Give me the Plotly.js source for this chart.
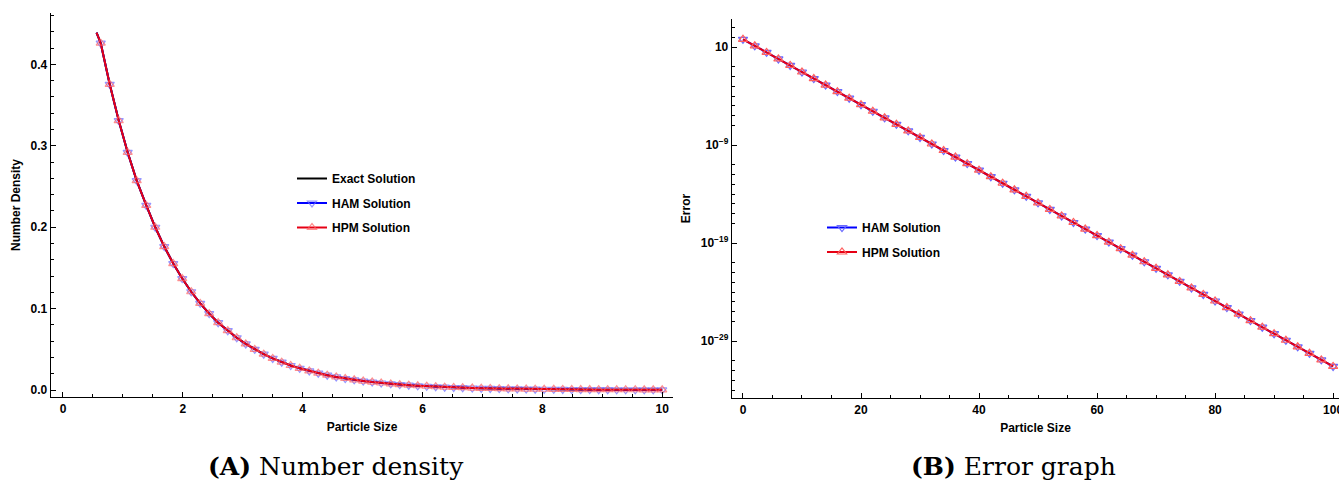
<!DOCTYPE html>
<html>
<head>
<meta charset="utf-8">
<script src="https://cdn.plot.ly/plotly-3.0.1.min.js"></script>
<style>html,body{margin:0;padding:0;background:#fff;}#chart{width:1339px;height:483px;}</style>
</head>
<body>
<div id="chart"></div>
<script>
// ---- Panel A: number density ----
const particleSize = [0.56, 0.63, 0.78, 0.93, 1.08, 1.23, 1.39, 1.54, 1.69, 1.84, 1.99,
  2.14, 2.29, 2.44, 2.59, 2.75, 2.90, 3.05, 3.20, 3.35, 3.50,
  3.65, 3.80, 3.95, 4.11, 4.26, 4.41, 4.56, 4.71, 4.86, 5.01,
  5.16, 5.31, 5.47, 5.62, 5.77, 5.92, 6.07, 6.22, 6.37, 6.52,
  6.67, 6.83, 6.98, 7.13, 7.28, 7.43, 7.58, 7.73, 7.88, 8.03,
  8.19, 8.34, 8.49, 8.64, 8.79, 8.94, 9.09, 9.24, 9.39, 9.55,
  9.70, 9.85, 10.00];
const exactDensity = [0.439, 0.426, 0.3755, 0.3310, 0.2918, 0.2572, 0.2267, 0.1999, 0.1762, 0.1553, 0.1369,
  0.1207, 0.1064, 0.0938, 0.0827, 0.0729, 0.0642, 0.0566, 0.0499, 0.0440, 0.0388,
  0.0342, 0.0301, 0.0266, 0.0234, 0.0207, 0.0182, 0.0160, 0.0141, 0.0125, 0.0110,
  0.0097, 0.0086, 0.0075, 0.0066, 0.0059, 0.0052, 0.0046, 0.0040, 0.0035, 0.0031,
  0.0028, 0.0024, 0.0021, 0.0019, 0.0017, 0.0015, 0.0013, 0.0011, 0.0010, 0.0009,
  0.0008, 0.0007, 0.0006, 0.0005, 0.0005, 0.0004, 0.0004, 0.0003, 0.0003, 0.0003,
  0.0002, 0.0002, 0.0002];
const hamDensity = [0.439, 0.426, 0.3755, 0.3310, 0.2918, 0.2572, 0.2267, 0.1999, 0.1762, 0.1553, 0.1369,
  0.1207, 0.1064, 0.0938, 0.0827, 0.0729, 0.0642, 0.0566, 0.0499, 0.0440, 0.0388,
  0.0342, 0.0301, 0.0266, 0.0234, 0.0207, 0.0182, 0.0160, 0.0141, 0.0125, 0.0110,
  0.0097, 0.0086, 0.0075, 0.0066, 0.0059, 0.0052, 0.0046, 0.0040, 0.0035, 0.0031,
  0.0028, 0.0024, 0.0021, 0.0019, 0.0017, 0.0015, 0.0013, 0.0011, 0.0010, 0.0009,
  0.0008, 0.0007, 0.0006, 0.0005, 0.0005, 0.0004, 0.0004, 0.0003, 0.0003, 0.0003,
  0.0002, 0.0002, 0.0002];
const hpmDensity = [0.439, 0.426, 0.3755, 0.3310, 0.2918, 0.2572, 0.2267, 0.1999, 0.1762, 0.1553, 0.1369,
  0.1207, 0.1064, 0.0938, 0.0827, 0.0729, 0.0642, 0.0566, 0.0499, 0.0440, 0.0388,
  0.0342, 0.0301, 0.0266, 0.0234, 0.0207, 0.0182, 0.0160, 0.0141, 0.0125, 0.0110,
  0.0097, 0.0086, 0.0075, 0.0066, 0.0059, 0.0052, 0.0046, 0.0040, 0.0035, 0.0031,
  0.0028, 0.0024, 0.0021, 0.0019, 0.0017, 0.0015, 0.0013, 0.0011, 0.0010, 0.0009,
  0.0008, 0.0007, 0.0006, 0.0005, 0.0005, 0.0004, 0.0004, 0.0003, 0.0003, 0.0003,
  0.0002, 0.0002, 0.0002];

// ---- Panel B: error ----
const errorSize = [0, 2, 4, 6, 8, 10, 12, 14, 16, 18, 20, 22, 24, 26, 28, 30, 32, 34, 36, 38,
  40, 42, 44, 46, 48, 50, 52, 54, 56, 58, 60, 62, 64, 66, 68, 70, 72, 74, 76, 78,
  80, 82, 84, 86, 88, 90, 92, 94, 96, 98, 100];
const hamError = [61.7, 13.27, 2.853, 0.6136, 0.1320, 0.02838, 6.105e-3, 1.313e-3, 2.824e-4, 6.074e-5,
  1.306e-5, 2.810e-6, 6.043e-7, 1.300e-7, 2.795e-8, 6.012e-9, 1.293e-9, 2.781e-10, 5.981e-11, 1.286e-11,
  2.767e-12, 5.951e-13, 1.280e-13, 2.753e-14, 5.921e-15, 1.274e-15, 2.739e-16, 5.891e-17, 1.267e-17, 2.725e-18,
  5.861e-19, 1.261e-19, 2.711e-20, 5.831e-21, 1.254e-21, 2.698e-22, 5.802e-23, 1.248e-23, 2.684e-24, 5.772e-25,
  1.242e-25, 2.670e-26, 5.743e-27, 1.235e-27, 2.657e-28, 5.715e-29, 1.229e-29, 2.643e-30, 5.686e-31, 1.223e-31,
  2.630e-32];
const hpmError = [61.7, 13.27, 2.853, 0.6136, 0.1320, 0.02838, 6.105e-3, 1.313e-3, 2.824e-4, 6.074e-5,
  1.306e-5, 2.810e-6, 6.043e-7, 1.300e-7, 2.795e-8, 6.012e-9, 1.293e-9, 2.781e-10, 5.981e-11, 1.286e-11,
  2.767e-12, 5.951e-13, 1.280e-13, 2.753e-14, 5.921e-15, 1.274e-15, 2.739e-16, 5.891e-17, 1.267e-17, 2.725e-18,
  5.861e-19, 1.261e-19, 2.711e-20, 5.831e-21, 1.254e-21, 2.698e-22, 5.802e-23, 1.248e-23, 2.684e-24, 5.772e-25,
  1.242e-25, 2.670e-26, 5.743e-27, 1.235e-27, 2.657e-28, 5.715e-29, 1.229e-29, 2.643e-30, 5.686e-31, 1.223e-31,
  2.630e-32];

const errorTickVals = [10, 1e-9, 1e-19, 1e-29];
const errorTickText = ['10', '10<sup>\u22129</sup>', '10<sup>\u221219</sup>', '10<sup>\u221229</sup>'];
const seriesNames = ['Exact Solution', 'HAM Solution', 'HPM Solution'];
const captions = ['<b>(A)</b> Number density', '<b>(B)</b> Error graph'];

// ---- styling ----
const FONT = 'Liberation Sans, Arial, sans-serif';
const hamMarkerColor = 'rgb(105,105,255)';
const hpmMarkerColor = 'rgb(255,95,95)';
const MS = 8;
const leftSizes = particleSize.map((_, i) => (i === 0 ? 0 : MS));

// minor ticks for the log axis: every decade except next to labelled ones
const logMinor = [];
for (let d = 3; d >= -34; d--) {
  if (d !== 2 && [1, -9, -19, -29].some(m => Math.abs(m - d) <= 1)) continue;
  logMinor.push(Math.pow(10, d));
}

const traces = [
  { x: particleSize, y: exactDensity, name: seriesNames[0], mode: 'lines', type: 'scatter',
    line: { color: 'black', width: 2 }, xaxis: 'x', yaxis: 'y', legend: 'legend', legendgroup: 'a' },
  { x: particleSize, y: hamDensity, name: seriesNames[1], mode: 'lines+markers', type: 'scatter',
    line: { color: 'blue', width: 2 },
    marker: { symbol: 'triangle-down-open', size: leftSizes, color: hamMarkerColor, line: { width: 1.2 } },
    xaxis: 'x', yaxis: 'y', legend: 'legend', legendgroup: 'b' },
  { x: particleSize, y: hpmDensity, name: seriesNames[2], mode: 'lines+markers', type: 'scatter',
    line: { color: 'rgb(230,0,20)', width: 2 },
    marker: { symbol: 'triangle-up-open', size: leftSizes, color: hpmMarkerColor, line: { width: 1.2 } },
    xaxis: 'x', yaxis: 'y', legend: 'legend', legendgroup: 'c' },
  { x: errorSize, y: hamError, name: seriesNames[1], mode: 'lines+markers', type: 'scatter',
    line: { color: 'blue', width: 2 },
    marker: { symbol: 'triangle-down-open', size: MS, color: hamMarkerColor, line: { width: 1.2 } },
    xaxis: 'x2', yaxis: 'y2', legend: 'legend2', legendgroup: 'd' },
  { x: errorSize, y: hpmError, name: seriesNames[2], mode: 'lines+markers', type: 'scatter',
    line: { color: 'rgb(230,0,20)', width: 2 },
    marker: { symbol: 'triangle-up-open', size: MS, color: hpmMarkerColor, line: { width: 1.2 } },
    xaxis: 'x2', yaxis: 'y2', legend: 'legend2', legendgroup: 'e' }
];

const tickFont = { family: FONT, size: 12, color: 'black', weight: 'bold' };
const titleFont = { family: FONT, size: 12, color: 'black', weight: 'bold' };
const axisBase = {
  showline: true, linecolor: 'black', linewidth: 1.3, mirror: false,
  showgrid: false, zeroline: false, ticks: 'inside', ticklen: 5, tickwidth: 1, tickcolor: 'black',
  tickfont: tickFont, automargin: false, fixedrange: true, ticklabeloverflow: 'allow'
};
const minorBase = { ticks: 'inside', ticklen: 3, tickwidth: 1, tickcolor: 'black', showgrid: false };

const W = 1339, H = 483;
const layout = {
  width: W, height: H,
  margin: { l: 0, r: 0, t: 0, b: 0 },
  paper_bgcolor: 'white', plot_bgcolor: 'white',
  showlegend: true,
  font: { family: FONT, color: 'black' },
  xaxis: Object.assign({}, axisBase, {
    domain: [51 / W, 673 / W], anchor: 'y', range: [-0.2, 10.18],
    tickmode: 'linear', tick0: 0, dtick: 2,
    minor: Object.assign({}, minorBase, { dtick: 0.5, tick0: 0 }),
    title: { text: 'Particle Size', font: titleFont, standoff: 8 }
  }),
  yaxis: Object.assign({}, axisBase, {
    domain: [(H - 397) / H, (H - 13) / H], anchor: 'x', range: [-0.0086, 0.4631],
    tickmode: 'linear', tick0: 0, dtick: 0.1, tickformat: '.1f',
    minor: Object.assign({}, minorBase, { dtick: 0.02, tick0: 0 }),
    title: { text: 'Number Density', font: titleFont, standoff: 7 }
  }),
  xaxis2: Object.assign({}, axisBase, {
    domain: [732 / W, 1], anchor: 'y2', range: [-1.86, 101],
    tickmode: 'linear', tick0: 0, dtick: 20,
    minor: Object.assign({}, minorBase, { dtick: 5, tick0: 0 }),
    title: { text: 'Particle Size', font: titleFont, standoff: 8 }
  }),
  yaxis2: Object.assign({}, axisBase, {
    domain: [(H - 398) / H, (H - 19) / H], anchor: 'x2', type: 'log', range: [-34.8, 3.86],
    tickmode: 'array', tickvals: errorTickVals, ticktext: errorTickText,
    minor: Object.assign({}, minorBase, { tickmode: 'array', tickvals: logMinor }),
    title: { text: 'Error', font: titleFont, standoff: 7 }
  }),
  legend: {
    x: 292 / W, y: (H - 164) / H, xanchor: 'left', yanchor: 'top',
    bgcolor: 'rgba(0,0,0,0)', borderwidth: 0, itemwidth: 30,
    traceorder: 'grouped', tracegroupgap: 5.5,
    font: { family: FONT, size: 12, color: 'black', weight: 'bold' }
  },
  legend2: {
    x: 822 / W, y: (H - 213) / H, xanchor: 'left', yanchor: 'top',
    bgcolor: 'rgba(0,0,0,0)', borderwidth: 0, itemwidth: 30,
    traceorder: 'grouped', tracegroupgap: 5.5,
    font: { family: FONT, size: 12, color: 'black', weight: 'bold' }
  },
  annotations: [
    { text: captions[0], xref: 'paper', yref: 'paper', x: 335.5 / W, y: (H - 466) / H,
      xanchor: 'center', yanchor: 'middle', showarrow: false,
      font: { family: 'DejaVu Serif, serif', size: 25, color: 'black' } },
    { text: captions[1], xref: 'paper', yref: 'paper', x: 1013.5 / W, y: (H - 466) / H,
      xanchor: 'center', yanchor: 'middle', showarrow: false,
      font: { family: 'DejaVu Serif, serif', size: 25, color: 'black' } }
  ]
};

Plotly.newPlot('chart', traces, layout, { displayModeBar: false, staticPlot: true });
</script>
</body>
</html>
